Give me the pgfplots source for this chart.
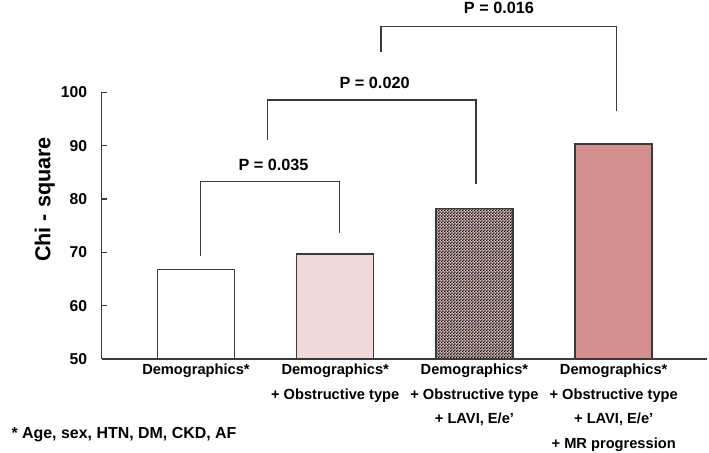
\documentclass[border=0pt]{standalone}
\usepackage{pgfplots}
\pgfplotsset{compat=1.18}
\usepackage{fontspec}
\setmainfont{Liberation Sans}
\usetikzlibrary{patterns}
\definecolor{lnc}{HTML}{3A3A3A}
\definecolor{pinkA}{HTML}{F2D9D9}
\definecolor{pinkB}{HTML}{D48F8F}
\definecolor{pinkC}{HTML}{E2C4C4}
\pgfdeclarepatternformonly{checker}{\pgfqpoint{0pt}{0pt}}{\pgfqpoint{3.2bp}{3.2bp}}{\pgfqpoint{3.2bp}{3.2bp}}{%
  \pgfpathrectangle{\pgfqpoint{0pt}{0pt}}{\pgfqpoint{1.6bp}{1.6bp}}%
  \pgfpathrectangle{\pgfqpoint{1.6bp}{1.6bp}}{\pgfqpoint{1.6bp}{1.6bp}}%
  \pgfusepath{fill}}
\begin{document}
\begin{tikzpicture}
\begin{axis}[
  at={(0,0)}, anchor=south west,
  scale only axis,
  width=605.3bp, height=266.7bp,
  xmin=-0.677, xmax=3.67,
  ymin=50, ymax=100,
  ytick={50,60,70,80,90,100},
  xtick={0,1,2,3},
  xticklabels={{Demographics*},{Demographics*\\+ Obstructive type},{Demographics*\\+ Obstructive type\\+ LAVI, E/e'},{Demographics*\\+ Obstructive type\\+ LAVI, E/e'\\+ MR progression}},
  axis x line*=bottom, axis y line*=left,
  axis line style={lnc, line width=1.3bp, -},
  tick align=inside,
  major tick length=5bp,
  ytick style={lnc, line width=1.2bp},
  xtick style={draw=none},
  /pgf/number format/assume math mode=true,
  yticklabel style={font=\fontsize{15.8}{18}\selectfont\bfseries, xshift=-11bp},
  xticklabel style={font=\fontsize{14.7}{24.7}\selectfont\bfseries, align=center, anchor=north, yshift=-1.5bp},
  ylabel={Chi - square},
  every axis y label/.style={at={(axis description cs:0,0.598)}, xshift=-57bp, rotate=90, anchor=center, font=\fontsize{21.7}{24}\selectfont\bfseries},
  clip=true,
]
\addplot[ybar, bar width=77bp, bar shift=0pt, draw=lnc, line width=1.5bp, fill=white] coordinates {(0,66.8)};
\addplot[ybar, bar width=77bp, bar shift=0pt, draw=lnc, line width=1.5bp, fill=pinkA] coordinates {(1,69.7)};
\addplot[ybar, bar width=77bp, bar shift=0pt, draw=lnc, line width=1.5bp, fill=pinkC, postaction={pattern=checker, pattern color=black}] coordinates {(2,78.2)};
\addplot[ybar, bar width=77bp, bar shift=0pt, draw=lnc, line width=1.5bp, fill=pinkB] coordinates {(3,90.3)};
% bracket anchor coordinates
\coordinate (a1) at (axis cs:0.034,69.3);
\coordinate (a2) at (axis cs:0.034,83.3);
\coordinate (a3) at (axis cs:1.03,83.3);
\coordinate (a4) at (axis cs:1.03,73.7);
\coordinate (al) at (axis cs:0.557,86.4);
\coordinate (b1) at (axis cs:0.515,91.06);
\coordinate (b2) at (axis cs:0.515,98.56);
\coordinate (b3) at (axis cs:2.01,98.56);
\coordinate (b4) at (axis cs:2.01,82.8);
\coordinate (bl) at (axis cs:1.283,101.7);
\coordinate (c1) at (axis cs:1.329,107.6);
\coordinate (c2) at (axis cs:1.329,112.4);
\coordinate (c3) at (axis cs:3.021,112.4);
\coordinate (c4) at (axis cs:3.021,96.4);
\coordinate (cl) at (axis cs:2.176,115.8);
\end{axis}
\draw[lnc, line width=1.3bp] (a1) -- (a2) -- (a3) -- (a4);
\draw[lnc, line width=1.3bp] (b1) -- (b2) -- (b3) -- (b4);
\draw[lnc, line width=1.3bp] (c1) -- (c2) -- (c3) -- (c4);
\node[font=\fontsize{16.3}{18}\selectfont\bfseries, anchor=center] at (al) {P = 0.035};
\node[font=\fontsize{16.3}{18}\selectfont\bfseries, anchor=center] at (bl) {P = 0.020};
\node[font=\fontsize{16.3}{18}\selectfont\bfseries, anchor=center] at (cl) {P = 0.016};
\node[font=\fontsize{16}{18}\selectfont\bfseries, anchor=west] at (-93.7bp,-76bp) {* Age, sex, HTN, DM, CKD, AF};
\pgfresetboundingbox
\path (-101.7bp,-94bp) rectangle (607.3bp,359bp);
\end{tikzpicture}
\end{document}
